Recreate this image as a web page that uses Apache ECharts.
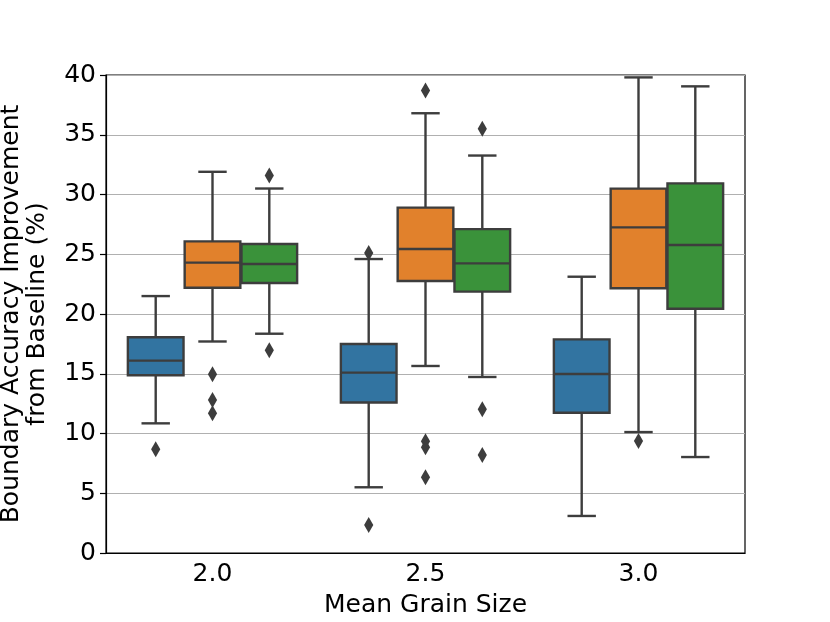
<!DOCTYPE html>
<html lang="en">
  <head>
    <meta charset="utf-8">
    <title>Boundary Accuracy Improvement</title>
    <script src="https://cdn.jsdelivr.net/npm/echarts@6/dist/echarts.min.js"></script>
    <style>
      html, body { margin: 0; padding: 0; background: #fff; }
      #chart { width: 830px; height: 622px; }
    </style>
  </head>
  <body>
    <div id="chart"></div>
    <script type="text/javascript">
    // categories on the x axis
    var categories = ['2.0', '2.5', '3.0'];
    var yTicks = [0, 5, 10, 15, 20, 25, 30, 35, 40];

    // box stats per category: [whisker low, Q1, median, Q3, whisker high]
    var blueBoxes = [
        [10.85, 14.87, 16.1, 18.05, 21.5],
        [5.5, 12.6, 15.09, 17.49, 24.6],
        [3.1, 11.74, 14.98, 17.88, 23.12]
    ];
    var orangeBoxes = [
        [17.7, 22.2, 24.3, 26.08, 31.9],
        [15.65, 22.76, 25.44, 28.9, 36.8],
        [10.12, 22.15, 27.25, 30.49, 39.8]
    ];
    var greenBoxes = [
        [18.35, 22.6, 24.18, 25.86, 30.5],
        [14.73, 21.87, 24.24, 27.1, 33.26],
        [8.03, 20.44, 25.77, 30.93, 39.05]
    ];

    // outliers per category
    var blueOutliers = [[8.68], [25.1, 2.34], []];
    var orangeOutliers = [[14.95, 12.8, 11.69], [38.7, 9.35, 8.85, 6.33], [9.37]];
    var greenOutliers = [[31.6, 16.96], [35.5, 12.02, 8.2], []];

    var hueColors = ['#3274a1', '#e1812c', '#3a923a'];
    var lineColor = '#3d3d3d';
    var font = 'DejaVu Sans';

    function boxData(boxes) {
        return boxes.map(function (b, i) { return [i].concat(b); });
    }
    function outlierData(outs) {
        var res = [];
        outs.forEach(function (list, i) {
            list.forEach(function (v) { res.push([i, v]); });
        });
        return res;
    }

    // seaborn style nested boxes: 0.8 of the band split over the hues
    function hueCenter(api, cat, hue) {
        var band = api.size([1, 0])[0];
        var w = band * 0.8 / 3;
        return { x: api.coord([cat, 0])[0] + (hue - 1) * w, w: w };
    }

    function renderBox(hue) {
        return function (params, api) {
            var cat = api.value(0);
            var c = hueCenter(api, cat, hue);
            var bw = c.w * 0.98;
            var cap = c.w * 0.5;
            var yLo = api.coord([cat, api.value(1)])[1];
            var yQ1 = api.coord([cat, api.value(2)])[1];
            var yMed = api.coord([cat, api.value(3)])[1];
            var yQ3 = api.coord([cat, api.value(4)])[1];
            var yHi = api.coord([cat, api.value(5)])[1];
            var ls = { stroke: lineColor, lineWidth: 2.4 };
            return {
                type: 'group',
                children: [
                    { type: 'line', shape: { x1: c.x, y1: yQ1, x2: c.x, y2: yLo }, style: ls },
                    { type: 'line', shape: { x1: c.x, y1: yQ3, x2: c.x, y2: yHi }, style: ls },
                    { type: 'line', shape: { x1: c.x - cap / 2, y1: yLo, x2: c.x + cap / 2, y2: yLo }, style: ls },
                    { type: 'line', shape: { x1: c.x - cap / 2, y1: yHi, x2: c.x + cap / 2, y2: yHi }, style: ls },
                    {
                        type: 'rect',
                        shape: { x: c.x - bw / 2, y: yQ3, width: bw, height: yQ1 - yQ3 },
                        style: { fill: hueColors[hue], stroke: lineColor, lineWidth: 2.4 }
                    },
                    { type: 'line', shape: { x1: c.x - bw / 2, y1: yMed, x2: c.x + bw / 2, y2: yMed }, style: ls }
                ]
            };
        };
    }

    function renderOutlier(hue) {
        return function (params, api) {
            var cat = api.value(0);
            var c = hueCenter(api, cat, hue);
            var y = api.coord([cat, api.value(1)])[1];
            return {
                type: 'polygon',
                shape: { points: [[c.x, y - 8], [c.x + 4.6, y], [c.x, y + 8], [c.x - 4.6, y]] },
                style: { fill: lineColor }
            };
        };
    }

    var series = [];
    [blueBoxes, orangeBoxes, greenBoxes].forEach(function (boxes, hue) {
        series.push({
            type: 'custom',
            renderItem: renderBox(hue),
            encode: { x: 0, y: [1, 2, 3, 4, 5] },
            data: boxData(boxes)
        });
    });
    [blueOutliers, orangeOutliers, greenOutliers].forEach(function (outs, hue) {
        series.push({
            type: 'custom',
            renderItem: renderOutlier(hue),
            encode: { x: 0, y: 1 },
            data: outlierData(outs)
        });
    });

    var chart = echarts.init(document.getElementById('chart'));
    var option = {
        animation: false,
        grid: {
            left: 106, right: 85, top: 75, bottom: 69,
            outerBoundsMode: 'none',
            containLabel: false,
            show: true, borderColor: '#000', borderWidth: 1.2
        },
        xAxis: {
            type: 'category',
            data: categories,
            name: 'Mean Grain Size',
            nameLocation: 'middle',
            nameGap: 40,
            nameTextStyle: { fontFamily: font, fontSize: 25, color: '#000' },
            axisLine: { lineStyle: { color: '#000', width: 1.2 } },
            axisTick: { alignWithLabel: true, length: 6, lineStyle: { color: '#000', width: 1.2 } },
            axisLabel: { fontFamily: font, fontSize: 25, color: '#000', margin: 9 },
            splitLine: { show: false }
        },
        yAxis: {
            type: 'value',
            min: yTicks[0],
            max: yTicks[yTicks.length - 1],
            interval: 5,
            name: 'Boundary Accuracy Improvement\nfrom Baseline (%)',
            nameLocation: 'middle',
            nameGap: 56,
            nameTextStyle: { fontFamily: font, fontSize: 25, color: '#000', lineHeight: 26 },
            axisLine: { show: true, lineStyle: { color: '#000', width: 1.2 } },
            axisTick: { show: true, length: 6, lineStyle: { color: '#000', width: 1.2 } },
            axisLabel: { fontFamily: font, fontSize: 25, color: '#000', margin: 10 },
            splitLine: { show: true, lineStyle: { color: '#b0b0b0', width: 1.2 } }
        },
        series: series
    };
    chart.setOption(option);
    </script>
  </body>
</html>
